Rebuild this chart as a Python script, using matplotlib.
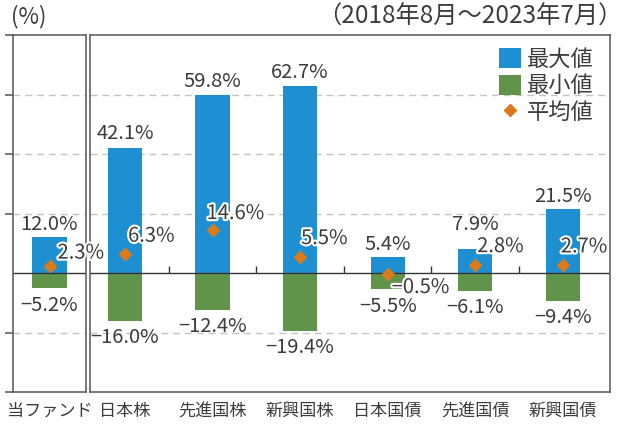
import matplotlib.pyplot as plt
import matplotlib.patheffects as pe
from matplotlib.patches import Patch
from matplotlib.lines import Line2D

plt.rcParams['font.family'] = ['Noto Sans CJK JP', 'DejaVu Sans']

# data
fund_label = ['当ファンド']
fund_max = [12.0]
fund_min = [-5.2]
fund_avg = [2.3]

categories = ['日本株', '先進国株', '新興国株', '日本国債', '先進国債', '新興国債']
max_vals = [42.1, 59.8, 62.7, 5.4, 7.9, 21.5]
min_vals = [-16.0, -12.4, -19.4, -5.5, -6.1, -9.4]
avg_vals = [6.3, 14.6, 5.5, -0.5, 2.8, 2.7]

# label offsets (points)
fund_avg_off = [(5.8, 9.4)]
avg_off = [(2.2, 13), (-4.3, 11.5), (0.7, 13), (2.9, -9.4), (1.4, 13), (-1.4, 13)]
fund_max_off = [9.5]
max_off = [10, 10, 10, 9, 18, 9]

blue = '#1e8fd0'
green = '#60944a'
orange = '#d97b1c'
txt = '#3c3c3c'
edge = '#555555'
grid_c = '#c4c4c4'


def fmt(v):
    return f'{v:.1f}%'.replace('-', '\u2212')


fig = plt.figure(figsize=(6.24, 4.25), dpi=100)
axL = fig.add_axes([13 / 624, 33 / 425, 73 / 624, 357 / 425])
axR = fig.add_axes([90 / 624, 33 / 425, 520 / 624, 357 / 425])
axL.set_zorder(3)
for ax in (axL, axR):
    ax.set_ylim(-40, 80)
    ax.patch.set_alpha(0)
    for s in ax.spines.values():
        s.set_color(edge)
        s.set_linewidth(1.1)
    for g in (-20, 20, 40, 60):
        ax.axhline(g, color=grid_c, lw=1, ls=(0, (5, 3.5)), zorder=0)
    ax.axhline(0, color='#333333', lw=1, zorder=2)

axL.set_xlim(-0.5, 0.5)
axR.set_xlim(-0.4, 5.54)

stroke = [pe.withStroke(linewidth=3, foreground='white')]


def draw(ax, xs, mx, mn, av, moffs, offs, width):
    ax.bar(xs, mx, width=width, color=blue, zorder=1)
    ax.bar(xs, mn, width=width, color=green, zorder=1)
    ax.plot(xs, av, linestyle='none', marker='D', markersize=6.5,
            color=orange, zorder=4)
    for x, a, b, c, mo, o in zip(xs, mx, mn, av, moffs, offs):
        ax.annotate(fmt(a), (x, a), xytext=(0, mo), textcoords='offset points',
                    ha='center', va='center', fontsize=14.5, color=txt)
        ax.annotate(fmt(b), (x, b), xytext=(0, -12), textcoords='offset points',
                    ha='center', va='center', fontsize=14.5, color=txt)
        ax.annotate(fmt(c), (x, c), xytext=o, textcoords='offset points',
                    ha='left', va='center', fontsize=14.5, color=txt,
                    path_effects=stroke, zorder=6, annotation_clip=False)


draw(axL, [0], fund_max, fund_min, fund_avg, fund_max_off, fund_avg_off, 0.466)
xs = list(range(len(categories)))
draw(axR, xs, max_vals, min_vals, avg_vals, max_off, avg_off, 0.39)

# separators on the zero line
axR.vlines([x + 0.5 for x in xs[:-1]], 0, 2.2, color='#333333', lw=1, zorder=2)

# ticks
axL.set_yticks([-40, -20, 20, 40, 60, 80])
axL.tick_params(axis='y', direction='out', length=6, width=1.1, color=edge,
                labelleft=False)
axR.set_yticks([])
axL.set_xticks([0], fund_label)
axR.set_xticks(xs, categories)
for ax in (axL, axR):
    ax.tick_params(axis='x', length=0, pad=7, labelsize=12.3, labelcolor=txt)

handles = [Patch(facecolor=blue), Patch(facecolor=green),
           Line2D([], [], marker='D', color=orange, linestyle='none', markersize=6)]
axR.legend(handles, ['最大値', '最小値', '平均値'], loc='upper right',
           bbox_to_anchor=(0.99, 0.995), frameon=False, fontsize=16,
           handlelength=1.0, handleheight=1.0, handletextpad=0.25,
           labelspacing=0.15, borderaxespad=0.1, labelcolor=txt)

fig.text(11 / 624, 1 - 17 / 425, '(%)', fontsize=16, color=txt, va='center', ha='left')
fig.text(622 / 624, 1 - 17 / 425, '（2018年8月～2023年7月）', fontsize=17.5,
         color=txt, va='center', ha='right')

fig.savefig('out.png', dpi=100)
